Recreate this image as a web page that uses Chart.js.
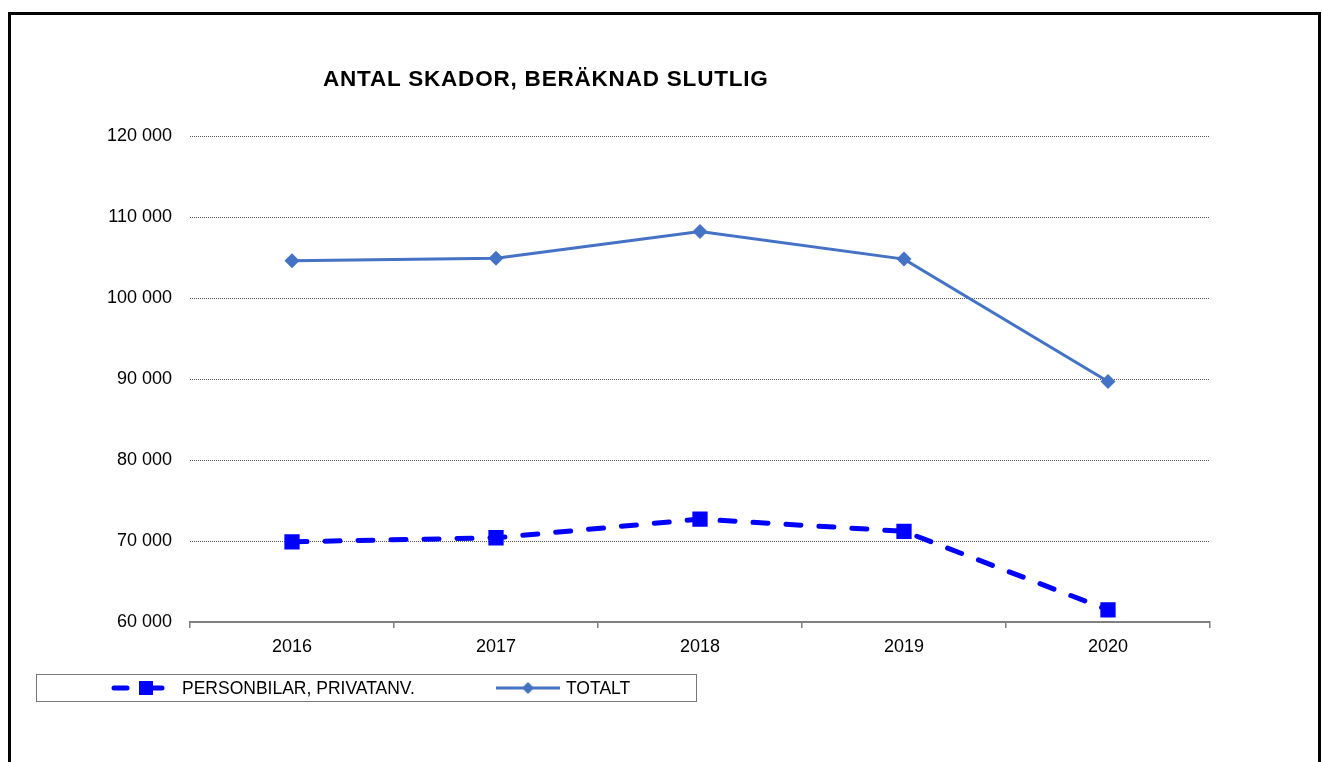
<!DOCTYPE html>
<html>
<head>
<meta charset="utf-8">
<script src="https://cdn.jsdelivr.net/npm/chart.js@4/dist/chart.umd.min.js"></script>
<style>
  html, body { margin: 0; padding: 0; background: #fff; width: 1322px; height: 762px; overflow: hidden; }
  #frame { position: absolute; left: 8px; top: 12px; width: 1313px; height: 800px; border: 3px solid #000; box-sizing: border-box; }
  #c { position: absolute; left: 0; top: 0; }
  #title { position: absolute; left: 323px; top: 66px; font: bold 22.5px "Liberation Sans", Arial, sans-serif; letter-spacing: 0.8px; color: #000; white-space: nowrap; }
  #legend { position: absolute; left: 36px; top: 674px; width: 661px; height: 28px; border: 1px solid #777; box-sizing: border-box; }
  .ltxt { position: absolute; top: 678px; font: 17.5px "Liberation Sans", Arial, sans-serif; color: #000; white-space: nowrap; line-height: 20px; }
  svg.ls { position: absolute; left: 0; top: 0; }
</style>
</head>
<body>
<div id="frame"></div>
<canvas id="c" width="1322" height="762"></canvas>
<div id="title">ANTAL SKADOR, BERÄKNAD SLUTLIG</div>
<div id="legend"></div>
<svg class="ls" width="1322" height="762">
  <line x1="114" y1="688" x2="127" y2="688" stroke="#0000FF" stroke-width="5" stroke-linecap="round"/>
  <rect x="139" y="681" width="14" height="14" fill="#0000FF"/>
  <line x1="153" y1="688" x2="162" y2="688" stroke="#0000FF" stroke-width="5" stroke-linecap="round"/>
  <line x1="496" y1="688" x2="560" y2="688" stroke="#4472C4" stroke-width="3"/>
  <polygon points="522,688 528,682 534,688 528,694" fill="#4472C4"/>
</svg>
<div class="ltxt" id="l1" style="left:182px">PERSONBILAR, PRIVATANV.</div>
<div class="ltxt" id="l2" style="left:566px">TOTALT</div>
<script>
const years = ['2016', '2017', '2018', '2019', '2020'];
const personbilar = [69900, 70400, 72700, 71200, 61500];
const totalt = [104600, 104900, 108200, 104800, 89700];
const yTicksMin = 60000;
const yTicksMax = 120000;
const yTickStep = 10000;
const seriesNames = ['PERSONBILAR, PRIVATANV.', 'TOTALT'];

function fmt(v) {
  return String(v).replace(/\B(?=(\d{3})+(?!\d))/g, ' ');
}

new Chart(document.getElementById('c'), {
  type: 'line',
  data: {
    labels: years,
    datasets: [
      {
        label: seriesNames[0],
        data: personbilar,
        borderColor: '#0000FF',
        backgroundColor: '#0000FF',
        borderWidth: 5,
        borderDash: [15, 18],
        borderCapStyle: 'round',
        pointStyle: 'rect',
        pointRadius: 10.8,
        pointBorderWidth: 0,
        pointBackgroundColor: '#0000FF',
        tension: 0
      },
      {
        label: seriesNames[1],
        data: totalt,
        borderColor: '#4472C4',
        backgroundColor: '#4472C4',
        borderWidth: 3,
        pointStyle: 'rectRot',
        pointRadius: 7.5,
        pointBorderWidth: 0,
        pointBackgroundColor: '#4472C4',
        tension: 0
      }
    ]
  },
  options: {
    responsive: false,
    animation: false,
    devicePixelRatio: 1,
    layout: { padding: { left: 0, right: 112, top: 136, bottom: 100 } },
    plugins: { legend: { display: false }, title: { display: false }, tooltip: { enabled: false } },
    scales: {
      x: {
        offset: true,
        grid: { display: true, drawOnChartArea: false, drawTicks: true, tickLength: 6, color: '#808080', lineWidth: 1.5, offset: true },
        border: { display: true, color: '#808080', width: 2 },
        ticks: { color: '#000', font: { family: 'Liberation Sans', size: 18 }, padding: 8, maxRotation: 0 },
        afterFit: (s) => { s.height = 40; }
      },
      y: {
        min: yTicksMin,
        max: yTicksMax,
        grid: { display: true, drawTicks: false, color: '#555', lineWidth: 1 },
        border: { display: false, dash: [1, 1] },
        ticks: { stepSize: yTickStep, color: '#000', font: { family: 'Liberation Sans', size: 18 }, padding: 18, callback: (v) => fmt(v) },
        afterFit: (s) => { s.width = 190; }
      }
    }
  }
});
</script>
</body>
</html>
